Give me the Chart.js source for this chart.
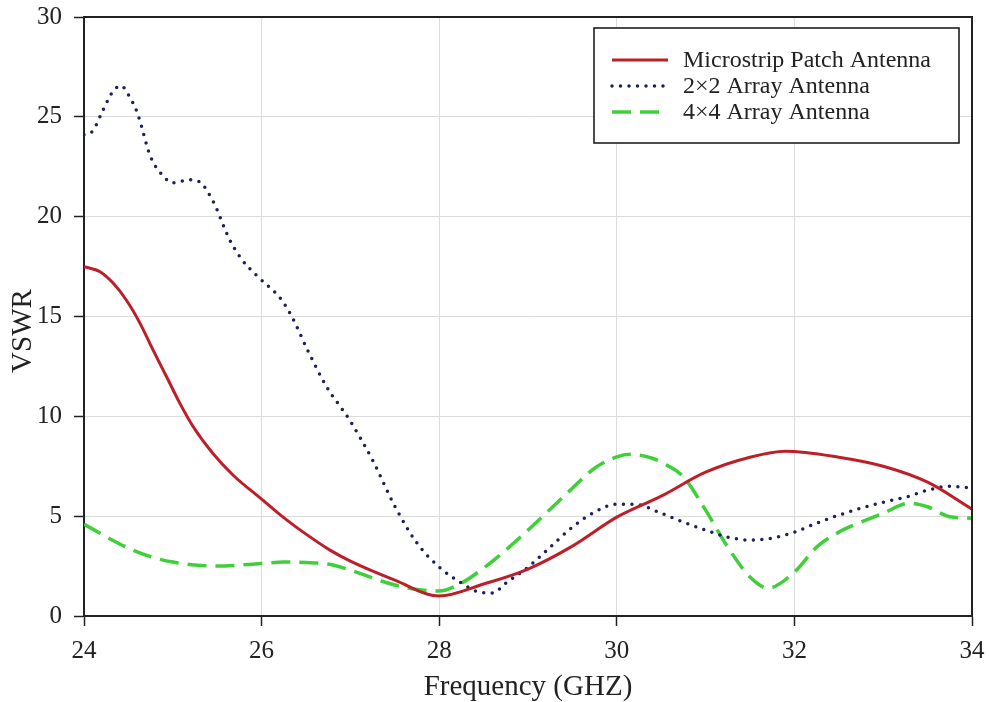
<!DOCTYPE html>
<html>
<head>
<meta charset="utf-8">
<script src="https://cdn.jsdelivr.net/npm/chart.js@4/dist/chart.umd.min.js"></script>
<style>
  html, body { margin: 0; padding: 0; background: #fff; }
  #wrap { width: 989px; height: 702px; }
</style>
</head>
<body>
<div id="wrap"><canvas id="vswr" width="989" height="702"></canvas></div>
<script>
// Frequency sweep (GHz) and measured VSWR for each antenna
const freqPatch = [24, 24.18, 24.33, 24.48, 24.63, 24.78, 24.93, 25.08, 25.23, 25.45, 25.68, 26, 26.2, 26.39, 26.77, 27, 27.5, 28, 28.5, 29, 29.5, 30, 30.5, 31, 31.5, 31.9, 32.5, 33, 33.5, 34];
const vswrPatch = [17.5, 17.24, 16.66, 15.8, 14.67, 13.3, 11.98, 10.65, 9.48, 8.15, 7.05, 5.85, 5.1, 4.45, 3.3, 2.75, 1.8, 1.0, 1.6, 2.35, 3.5, 4.95, 6.0, 7.2, 7.95, 8.25, 7.95, 7.5, 6.7, 5.35];

const freq2x2 = [24, 24.1, 24.2, 24.33, 24.42, 24.5, 24.6, 24.75, 24.9, 25.0, 25.2, 25.3, 25.45, 25.64, 25.77, 25.94, 26.13, 26.22, 26.34, 26.52, 26.73, 27, 27.25, 27.5, 27.75, 28, 28.25, 28.45, 28.6, 28.75, 29, 29.25, 29.5, 29.75, 30, 30.2, 30.5, 30.75, 31, 31.25, 31.5, 31.75, 32, 32.25, 32.5, 32.75, 33, 33.25, 33.5, 33.75, 34];
const vswr2x2 = [24.1, 24.3, 25.2, 26.3, 26.55, 26.1, 25.2, 23.0, 22.0, 21.7, 21.85, 21.75, 20.8, 18.85, 17.9, 17.07, 16.3, 15.86, 15.0, 13.3, 11.5, 9.75, 7.8, 5.5, 3.65, 2.45, 1.65, 1.2, 1.15, 1.65, 2.45, 3.45, 4.45, 5.2, 5.6, 5.6, 5.15, 4.7, 4.3, 3.95, 3.8, 3.9, 4.2, 4.65, 5.05, 5.4, 5.7, 5.95, 6.3, 6.5, 6.4];

const freq4x4 = [24, 24.25, 24.5, 24.75, 25, 25.25, 25.5, 25.75, 26, 26.25, 26.5, 26.75, 27, 27.25, 27.5, 27.75, 28, 28.25, 28.5, 28.75, 29, 29.25, 29.5, 29.75, 30, 30.15, 30.4, 30.5, 30.75, 31, 31.25, 31.5, 31.7, 32, 32.25, 32.5, 32.75, 33, 33.3, 33.5, 33.75, 34];
const vswr4x4 = [4.6, 3.97, 3.4, 2.97, 2.7, 2.55, 2.5, 2.55, 2.63, 2.7, 2.68, 2.6, 2.3, 1.9, 1.55, 1.33, 1.25, 1.65, 2.4, 3.3, 4.3, 5.35, 6.4, 7.4, 7.97, 8.1, 7.9, 7.7, 6.97, 5.3, 3.45, 1.95, 1.4, 2.2, 3.45, 4.2, 4.7, 5.15, 5.65, 5.47, 4.97, 4.9];

const seriesNames = ['Microstrip Patch Antenna', '2\u00d72 Array Antenna', '4\u00d74 Array Antenna'];
const xTicks = [24, 26, 28, 30, 32, 34];
const yTicks = [0, 5, 10, 15, 20, 25, 30];
const xTitle = 'Frequency (GHZ)';
const yTitle = 'VSWR';

const FONT = "'Liberation Serif', 'Times New Roman', serif";
const INK = '#222';

function pairs(xs, ys) { return xs.map((x, i) => ({ x: x, y: ys[i] })); }

// Frame on the top/right edges of the plot, the vertical axis title and a boxed legend
const framePlugin = {
  id: 'frameAndLegend',
  afterDraw(chart) {
    const ctx = chart.ctx;
    const a = chart.chartArea;
    ctx.save();
    ctx.strokeStyle = INK;
    ctx.lineWidth = 2;
    ctx.beginPath();
    ctx.moveTo(a.left, a.top);
    ctx.lineTo(a.right, a.top);
    ctx.lineTo(a.right, a.bottom);
    ctx.stroke();

    // vertical axis title
    ctx.save();
    ctx.translate(23, 331);
    ctx.rotate(-Math.PI / 2);
    ctx.fillStyle = INK;
    ctx.font = '29px ' + FONT;
    ctx.textAlign = 'center';
    ctx.textBaseline = 'middle';
    ctx.fillText(yTitle, 0, 0);
    ctx.restore();

    // legend box
    const bx = 594, by = 28, bw = 365, bh = 115;
    ctx.fillStyle = '#fff';
    ctx.fillRect(bx, by, bw, bh);
    ctx.lineWidth = 1.5;
    ctx.strokeStyle = '#111';
    ctx.strokeRect(bx, by, bw, bh);

    const rows = [60, 86, 112];
    chart.data.datasets.forEach((ds, i) => {
      const y = rows[i];
      ctx.save();
      ctx.strokeStyle = ds.borderColor;
      ctx.lineWidth = ds.borderWidth;
      ctx.lineCap = ds.borderCapStyle || 'butt';
      ctx.setLineDash(ds.borderDash || []);
      ctx.beginPath();
      ctx.moveTo(612, y);
      ctx.lineTo(668, y);
      ctx.stroke();
      ctx.restore();
      ctx.fillStyle = INK;
      ctx.font = '24px ' + FONT;
      ctx.textBaseline = 'middle';
      ctx.textAlign = 'left';
      ctx.fillText(ds.label, 683, y + 1);
    });
    ctx.restore();
  }
};

new Chart(document.getElementById('vswr'), {
  type: 'line',
  data: {
    datasets: [
      {
        label: seriesNames[0],
        data: pairs(freqPatch, vswrPatch),
        borderColor: '#bd1f29',
        borderWidth: 3,
        pointRadius: 0,
        cubicInterpolationMode: 'monotone',
        fill: false
      },
      {
        label: seriesNames[1],
        data: pairs(freq2x2, vswr2x2),
        borderColor: '#1c1f5e',
        borderWidth: 3.5,
        borderDash: [0, 8.5],
        borderCapStyle: 'round',
        pointRadius: 0,
        cubicInterpolationMode: 'monotone',
        fill: false
      },
      {
        label: seriesNames[2],
        data: pairs(freq4x4, vswr4x4),
        borderColor: '#3fcf3a',
        borderWidth: 3.5,
        borderDash: [19, 9],
        pointRadius: 0,
        cubicInterpolationMode: 'monotone',
        fill: false
      }
    ]
  },
  options: {
    responsive: false,
    animation: false,
    devicePixelRatio: 1,
    layout: { padding: { top: 17, right: 17, left: 0, bottom: 0 } },
    plugins: { legend: { display: false }, tooltip: { enabled: false } },
    scales: {
      x: {
        type: 'linear',
        min: 24,
        max: 34,
        afterBuildTicks(scale) { scale.ticks = xTicks.map(v => ({ value: v })); },
        afterFit(scale) { scale.height = 86; scale.paddingLeft = 0; scale.paddingRight = 0; },
        grid: { color: '#dcdcdc', lineWidth: 1, tickColor: INK, tickLength: 10, tickWidth: 1.5 },
        border: { color: INK, width: 2 },
        ticks: { color: INK, font: { family: FONT, size: 25 }, padding: 10, maxRotation: 0 },
        title: { display: true, text: xTitle, color: INK, font: { family: FONT, size: 29, lineHeight: 1.0 }, padding: { top: 0, bottom: 0 } }
      },
      y: {
        type: 'linear',
        min: 0,
        max: 30,
        afterBuildTicks(scale) { scale.ticks = yTicks.map(v => ({ value: v })); },
        afterFit(scale) { scale.width = 84; scale.paddingTop = 0; scale.paddingBottom = 0; },
        grid: { color: '#dcdcdc', lineWidth: 1, tickColor: INK, tickLength: 10, tickWidth: 1.5 },
        border: { color: INK, width: 2 },
        ticks: { color: INK, font: { family: FONT, size: 25 }, padding: 12 },
        title: { display: false }
      }
    }
  },
  plugins: [framePlugin]
});
</script>
</body>
</html>
